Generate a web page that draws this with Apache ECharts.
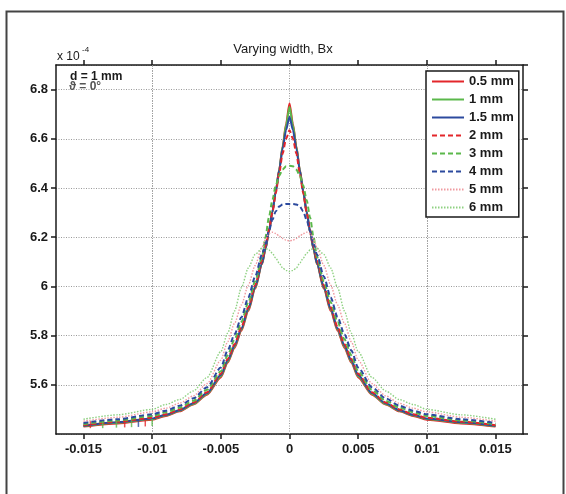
<!DOCTYPE html>
<html>
<head>
<meta charset="utf-8">
<script src="https://cdn.jsdelivr.net/npm/echarts@6/dist/echarts.min.js"></script>
<style>
html,body{margin:0;padding:0;background:#fff;}
#chart{width:566px;height:494px;}
</style>
</head>
<body>
<div id="chart"></div>
<script>
// ---- data ----
const xs = [-0.015, -0.0125, -0.01, -0.009, -0.008, -0.007, -0.006, -0.005, -0.0045, -0.004, -0.0035, -0.003, -0.0025, -0.002, -0.00175, -0.0015, -0.00125, -0.001, -0.00075, -0.0005, -0.00025, 0, 0.00025, 0.0005, 0.00075, 0.001, 0.00125, 0.0015, 0.00175, 0.002, 0.0025, 0.003, 0.0035, 0.004, 0.0045, 0.005, 0.006, 0.007, 0.008, 0.009, 0.01, 0.0125, 0.015];
const w05 = [5.43, 5.443, 5.458, 5.473, 5.492, 5.52, 5.56, 5.63, 5.69, 5.75, 5.82, 5.9, 5.99, 6.09, 6.15, 6.22, 6.3, 6.385, 6.475, 6.57, 6.66, 6.745, 6.66, 6.57, 6.475, 6.385, 6.3, 6.22, 6.15, 6.09, 5.99, 5.9, 5.82, 5.75, 5.69, 5.63, 5.56, 5.52, 5.492, 5.473, 5.458, 5.443, 5.43];
const w1 = [5.432, 5.446, 5.461, 5.476, 5.495, 5.522, 5.563, 5.635, 5.695, 5.755, 5.825, 5.905, 5.995, 6.092, 6.152, 6.222, 6.302, 6.386, 6.475, 6.568, 6.655, 6.73, 6.655, 6.568, 6.475, 6.386, 6.302, 6.222, 6.152, 6.092, 5.995, 5.905, 5.825, 5.755, 5.695, 5.635, 5.563, 5.522, 5.495, 5.476, 5.461, 5.446, 5.432];
const w15 = [5.434, 5.448, 5.463, 5.478, 5.497, 5.525, 5.567, 5.64, 5.7, 5.76, 5.83, 5.91, 5.998, 6.094, 6.155, 6.224, 6.303, 6.386, 6.472, 6.56, 6.635, 6.69, 6.635, 6.56, 6.472, 6.386, 6.303, 6.224, 6.155, 6.094, 5.998, 5.91, 5.83, 5.76, 5.7, 5.64, 5.567, 5.525, 5.497, 5.478, 5.463, 5.448, 5.434];
const w2 = [5.436, 5.45, 5.466, 5.48, 5.5, 5.528, 5.57, 5.645, 5.705, 5.765, 5.835, 5.915, 6.005, 6.105, 6.165, 6.23, 6.3, 6.38, 6.46, 6.54, 6.6, 6.635, 6.6, 6.54, 6.46, 6.38, 6.3, 6.23, 6.165, 6.105, 6.005, 5.915, 5.835, 5.765, 5.705, 5.645, 5.57, 5.528, 5.5, 5.48, 5.466, 5.45, 5.436];
const w3 = [5.44, 5.455, 5.473, 5.488, 5.507, 5.535, 5.58, 5.655, 5.72, 5.785, 5.855, 5.935, 6.02, 6.12, 6.2, 6.28, 6.35, 6.41, 6.45, 6.475, 6.488, 6.49, 6.488, 6.475, 6.45, 6.41, 6.35, 6.28, 6.2, 6.12, 6.02, 5.935, 5.855, 5.785, 5.72, 5.655, 5.58, 5.535, 5.507, 5.488, 5.473, 5.455, 5.44];
const w4 = [5.445, 5.46, 5.48, 5.495, 5.515, 5.545, 5.59, 5.67, 5.74, 5.805, 5.875, 5.955, 6.04, 6.13, 6.175, 6.225, 6.27, 6.305, 6.325, 6.333, 6.335, 6.335, 6.335, 6.333, 6.325, 6.305, 6.27, 6.225, 6.175, 6.13, 6.04, 5.955, 5.875, 5.805, 5.74, 5.67, 5.59, 5.545, 5.515, 5.495, 5.48, 5.46, 5.445];
const w5 = [5.452, 5.468, 5.49, 5.505, 5.525, 5.555, 5.605, 5.7, 5.775, 5.85, 5.925, 6.005, 6.085, 6.16, 6.19, 6.215, 6.22, 6.215, 6.205, 6.195, 6.188, 6.185, 6.188, 6.195, 6.205, 6.215, 6.22, 6.215, 6.19, 6.16, 6.085, 6.005, 5.925, 5.85, 5.775, 5.7, 5.605, 5.555, 5.525, 5.505, 5.49, 5.468, 5.452];
const w6 = [5.46, 5.478, 5.5, 5.52, 5.54, 5.575, 5.63, 5.735, 5.81, 5.9, 5.995, 6.075, 6.13, 6.155, 6.155, 6.148, 6.135, 6.115, 6.095, 6.075, 6.065, 6.06, 6.065, 6.075, 6.095, 6.115, 6.135, 6.148, 6.155, 6.155, 6.13, 6.075, 5.995, 5.9, 5.81, 5.735, 5.63, 5.575, 5.54, 5.52, 5.5, 5.478, 5.46];
const seriesNames = ['0.5 mm', '1 mm', '1.5 mm', '2 mm', '3 mm', '4 mm', '5 mm', '6 mm'];
// small stray vertical marks near the lower-left end of the curves
const strayX = [-0.0145, -0.0136, -0.0126, -0.012, -0.0115, -0.011, -0.0105, -0.01];
const strayY = [5.438, 5.438, 5.44, 5.441, 5.442, 5.443, 5.445, 5.447];
const strayColorIdx = [0, 1, 1, 0, 1, 2, 0, 1];
const xTicks = [-0.015, -0.01, -0.005, 0, 0.005, 0.01, 0.015];
const xTickLabels = ['-0.015', '-0.01', '-0.005', '0', '0.005', '0.01', '0.015'];
const yTickLabels = ['5.6', '5.8', '6', '6.2', '6.4', '6.6', '6.8'];

// ---- styles ----
const values = [w05, w1, w15, w2, w3, w4, w5, w6];
const styles = [
  {color: '#e3262b', type: 'solid', width: 2},
  {color: '#5bb84b', type: 'solid', width: 2},
  {color: '#2c4a9e', type: 'solid', width: 2},
  {color: '#e3262b', type: [5, 3], width: 2},
  {color: '#5bb84b', type: [5, 3], width: 2},
  {color: '#2c4a9e', type: [5, 3], width: 2},
  {color: '#f09aa0', type: [1.5, 1.5], width: 1.4},
  {color: '#8fd182', type: [1.5, 1.5], width: 1.4}
];
const FONT = 'Liberation Sans, Arial, sans-serif';
const chart = echarts.init(document.getElementById('chart'), null, {renderer: 'canvas'});

const series = values.map((vals, i) => ({
  name: seriesNames[i],
  type: 'line',
  xAxisIndex: 0,
  yAxisIndex: 0,
  data: xs.map((x, k) => [x, vals[k]]),
  symbol: 'none',
  showSymbol: false,
  smooth: 0.25,
  smoothMonotone: 'x',
  animation: false,
  z: 3,
  lineStyle: styles[i],
  itemStyle: {color: styles[i].color}
}));
series[0].markLine = {
  silent: true, symbol: 'none', animation: false, z: 1,
  label: {show: false},
  lineStyle: {color: '#9a9a9a', type: [1, 1.5], width: 1},
  data: xTicks.map(v => ({xAxis: v}))
};
series.push({
  name: 'stray',
  type: 'scatter',
  xAxisIndex: 0, yAxisIndex: 0,
  symbol: 'rect', symbolSize: [1.5, 7],
  silent: true, animation: false, z: 4,
  data: strayX.map((x, k) => ({value: [x, strayY[k]], itemStyle: {color: styles[strayColorIdx[k]].color}}))
});

const axisLineStyle = {color: '#1a1a1a', width: 1.5};
const labelStyle = {color: '#1a1a1a', fontSize: 13, fontWeight: 'bold', fontFamily: FONT};

chart.setOption({
  animation: false,
  backgroundColor: '#fff',
  grid: {left: 56, right: 43, top: 65, bottom: 60, containLabel: false},
  xAxis: [
    {
      type: 'value', min: -0.017, max: 0.017, position: 'bottom',
      axisLine: {show: true, onZero: false, lineStyle: axisLineStyle},
      axisTick: {show: true, inside: false, length: 5, customValues: xTicks, lineStyle: axisLineStyle},
      axisLabel: {show: true, margin: 9, customValues: xTicks,
        formatter: v => { const i = xTicks.findIndex(t => Math.abs(t - v) < 1e-9); return i >= 0 ? xTickLabels[i] : ''; },
        ...labelStyle},
      splitLine: {show: false}
    },
    {
      type: 'value', min: -0.017, max: 0.017, position: 'top',
      axisLine: {show: true, onZero: false, lineStyle: axisLineStyle},
      axisTick: {show: true, inside: false, length: 5, customValues: xTicks, lineStyle: axisLineStyle},
      axisLabel: {show: false},
      splitLine: {show: false}
    }
  ],
  yAxis: [
    {
      type: 'value', min: 5.4, max: 6.9, interval: 0.2, position: 'left',
      axisLine: {show: true, onZero: false, lineStyle: axisLineStyle},
      axisTick: {show: true, inside: false, length: 5, lineStyle: axisLineStyle},
      axisLabel: {show: true, margin: 8, showMinLabel: false, showMaxLabel: false,
        formatter: v => { const s = (Math.round(v * 10) / 10).toString(); return yTickLabels.indexOf(s) >= 0 ? s : ''; },
        ...labelStyle},
      splitLine: {show: true, lineStyle: {color: '#9a9a9a', type: [1, 1.5], width: 1}}
    },
    {
      type: 'value', min: 5.4, max: 6.9, interval: 0.2, position: 'right',
      axisLine: {show: true, onZero: false, lineStyle: axisLineStyle},
      axisTick: {show: true, inside: false, length: 5, lineStyle: axisLineStyle},
      axisLabel: {show: false},
      splitLine: {show: false}
    }
  ],
  legend: {
    show: true, orient: 'vertical', left: 426, top: 71,
    itemWidth: 32, itemHeight: 14, itemGap: 5,
    padding: [4, 5, 3, 5],
    borderColor: '#1a1a1a', borderWidth: 1.5, backgroundColor: '#fff',
    itemStyle: {opacity: 0},
    textStyle: {color: '#1a1a1a', fontSize: 13, fontWeight: 'bold', fontFamily: FONT},
    data: seriesNames
  },
  graphic: [
    {type: 'rect', left: 4, top: 9, z: 100, silent: true,
      shape: {width: 557, height: 495},
      style: {fill: 'none', stroke: '#444', lineWidth: 2}},
    {type: 'text', left: 'center', top: 43, z: 100, silent: true,
      style: {text: 'Varying width, Bx', fill: '#1a1a1a', font: '13px ' + FONT}},
    {type: 'text', left: 57, top: 51, z: 100, silent: true,
      style: {text: 'x 10', fill: '#1a1a1a', font: '12px ' + FONT}},
    {type: 'text', left: 82, top: 46, z: 100, silent: true,
      style: {text: '-4', fill: '#1a1a1a', font: '8px ' + FONT}},
    {type: 'text', left: 70, top: 71, z: 100, silent: true,
      style: {text: 'd = 1 mm', fill: '#1a1a1a', font: 'bold 12px ' + FONT}},
    {type: 'text', left: 69, top: 81, z: 100, silent: true,
      style: {text: 'ϑ = 0°', fill: '#555', font: 'bold 12px ' + FONT}}
  ],
  series: series
});
</script>
</body>
</html>
